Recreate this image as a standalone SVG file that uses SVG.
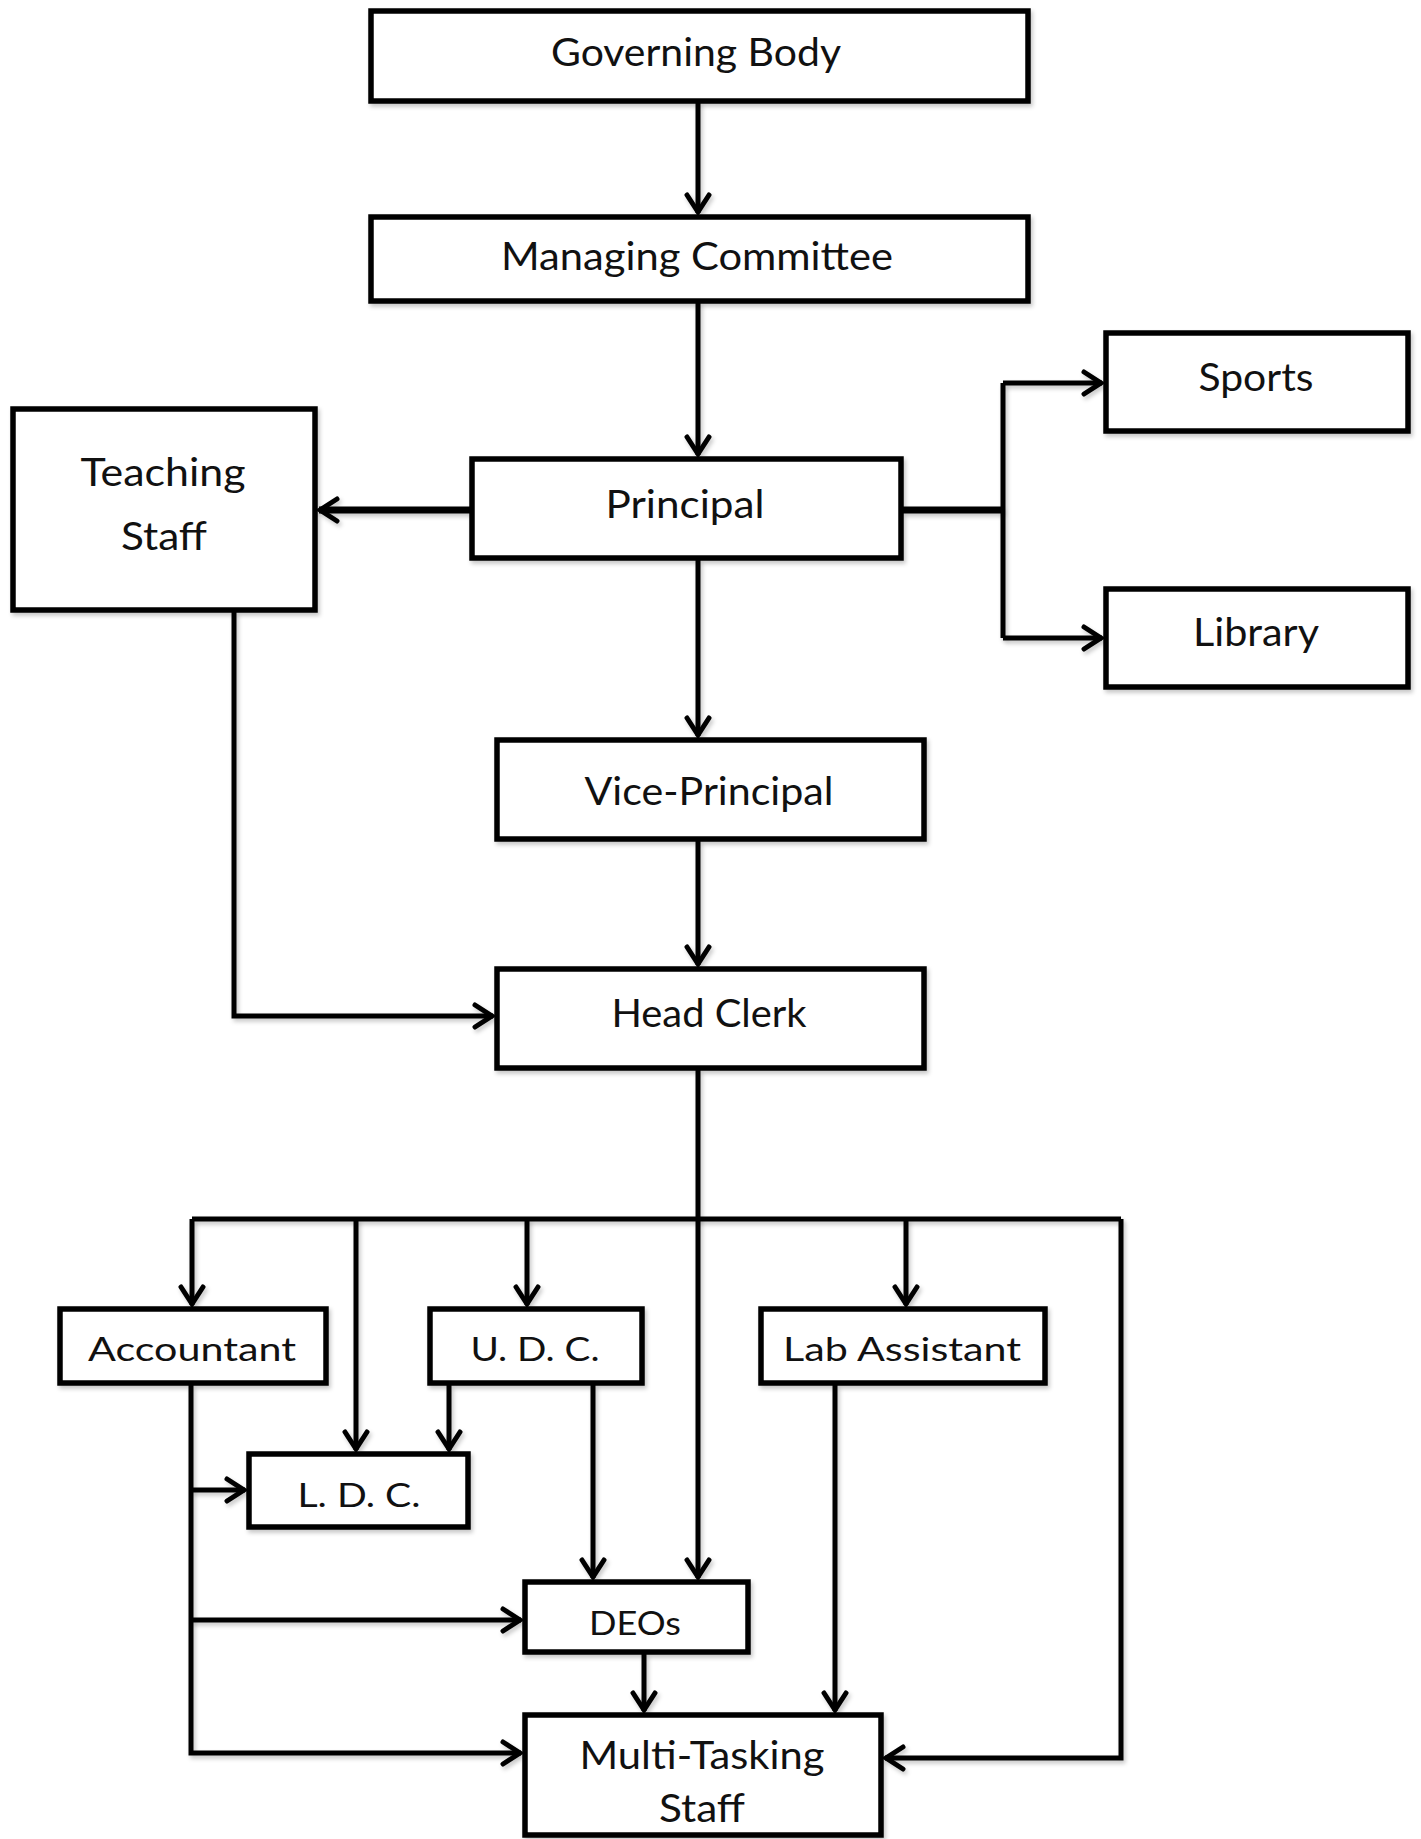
<svg xmlns="http://www.w3.org/2000/svg" width="1421" height="1839" viewBox="0 0 1421 1839">
<style>
.box{fill:#fff;stroke:#000;stroke-width:5.5;filter:url(#sh)}
.c{fill:none;stroke:#000;stroke-width:5;stroke-linejoin:miter;filter:url(#sh)}
.thick{stroke-width:7}
.a{marker-end:url(#arr)}
text{font-family:Lato,"Open Sans","Liberation Sans",sans-serif;fill:#111;text-anchor:middle}
.t{font-size:38px}
.s{font-size:33px}
</style>
<defs>
<filter id="sh" filterUnits="userSpaceOnUse" x="0" y="0" width="1421" height="1839">
<feDropShadow dx="2" dy="3" stdDeviation="2" flood-color="#000" flood-opacity="0.22"/>
</filter>
<marker id="arr" viewBox="0 0 26 28" refX="22" refY="14" markerWidth="26" markerHeight="28" markerUnits="userSpaceOnUse" orient="auto">
<path d="M4,3 L21,14 L4,25" fill="none" stroke="#000" stroke-width="5" stroke-linecap="round" stroke-linejoin="miter"/>
</marker>
</defs>
<rect width="1421" height="1839" fill="#fff"/>

<g id="connectors">
<path class="c a" d="M698,102 V213"/>
<path class="c a" d="M698,302 V455"/>
<path class="c a thick" d="M470,510 H319"/>
<path class="c thick" d="M903,510 H1003"/>
<path class="c" d="M1003,383 V638"/>
<path class="c a" d="M1003,383 H1102"/>
<path class="c a" d="M1003,638 H1102"/>
<path class="c a" d="M698,560 V736"/>
<path class="c a" d="M698,841 V965"/>
<path class="c a" d="M234,612 V1016 H493"/>
<path class="c a" d="M698,1070 V1578"/>
<path class="c" d="M192,1219 H1121"/>
<path class="c a" d="M192,1219 V1305"/>
<path class="c a" d="M356,1219 V1450"/>
<path class="c a" d="M527,1219 V1305"/>
<path class="c a" d="M906,1219 V1305"/>
<path class="c a" d="M1121,1219 V1758 H885"/>
<path class="c a" d="M191,1385 V1753 H521"/>
<path class="c a" d="M191,1490 H245"/>
<path class="c a" d="M191,1620 H521"/>
<path class="c a" d="M449,1385 V1450"/>
<path class="c a" d="M593,1385 V1578"/>
<path class="c a" d="M644,1654 V1711"/>
<path class="c a" d="M835,1385 V1711"/>
</g>

<g id="governing-body">
<rect class="box" x="371" y="11" width="657" height="90"/>
<text class="t" x="696" y="66" textLength="290" lengthAdjust="spacingAndGlyphs">Governing Body</text>
</g>
<g id="managing-committee">
<rect class="box" x="371" y="217" width="657" height="84"/>
<text class="t" x="697" y="270" textLength="392" lengthAdjust="spacingAndGlyphs">Managing Committee</text>
</g>
<g id="principal">
<rect class="box" x="472" y="459" width="429" height="99"/>
<text class="t" x="685" y="518" textLength="159" lengthAdjust="spacingAndGlyphs">Principal</text>
</g>
<g id="teaching-staff">
<rect class="box" x="13" y="409" width="302" height="201"/>
<text class="t" x="163" y="486" textLength="165" lengthAdjust="spacingAndGlyphs">Teaching</text>
<text class="t" x="164" y="550" textLength="86" lengthAdjust="spacingAndGlyphs">Staff</text>
</g>
<g id="sports">
<rect class="box" x="1106" y="333" width="302" height="98"/>
<text class="t" x="1256" y="391" textLength="115" lengthAdjust="spacingAndGlyphs">Sports</text>
</g>
<g id="library">
<rect class="box" x="1106" y="589" width="302" height="98"/>
<text class="t" x="1256" y="646" textLength="126" lengthAdjust="spacingAndGlyphs">Library</text>
</g>
<g id="vice-principal">
<rect class="box" x="497" y="740" width="427" height="99"/>
<text class="t" x="709" y="805" textLength="249" lengthAdjust="spacingAndGlyphs">Vice-Principal</text>
</g>
<g id="head-clerk">
<rect class="box" x="497" y="969" width="427" height="99"/>
<text class="t" x="709" y="1027" textLength="195" lengthAdjust="spacingAndGlyphs">Head Clerk</text>
</g>
<g id="accountant">
<rect class="box" x="60" y="1309" width="266" height="74"/>
<text class="s" x="192" y="1361" textLength="208" lengthAdjust="spacingAndGlyphs">Accountant</text>
</g>
<g id="udc">
<rect class="box" x="430" y="1309" width="212" height="74"/>
<text class="s" x="535" y="1361" textLength="129" lengthAdjust="spacingAndGlyphs">U. D. C.</text>
</g>
<g id="lab-assistant">
<rect class="box" x="761" y="1309" width="284" height="74"/>
<text class="s" x="902" y="1361" textLength="238" lengthAdjust="spacingAndGlyphs">Lab Assistant</text>
</g>
<g id="ldc">
<rect class="box" x="249" y="1454" width="219" height="73"/>
<text class="s" x="359" y="1507" textLength="123" lengthAdjust="spacingAndGlyphs">L. D. C.</text>
</g>
<g id="deos">
<rect class="box" x="525" y="1582" width="223" height="70"/>
<text class="s" x="635" y="1635" textLength="92" lengthAdjust="spacingAndGlyphs">DEOs</text>
</g>
<g id="multi-tasking-staff">
<rect class="box" x="525" y="1715" width="356" height="120"/>
<text class="t" x="702" y="1769" textLength="245" lengthAdjust="spacingAndGlyphs">Multi-Tasking</text>
<text class="t" x="702" y="1822" textLength="86" lengthAdjust="spacingAndGlyphs">Staff</text>
</g>
</svg>
